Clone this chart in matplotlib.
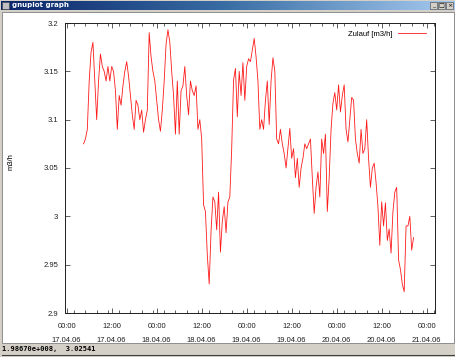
import matplotlib
matplotlib.use('Agg')
import matplotlib.pyplot as plt
import matplotlib.dates as mdates
from matplotlib.colors import LinearSegmentedColormap
from matplotlib.patches import Rectangle
import numpy as np
import pandas as pd

# Zulauf in m3/h, half-hourly values starting 17.04.06 04:30
start = '2006-04-17 04:30'
zulauf = [
    3.075, 3.08, 3.09, 3.14, 3.17, 3.18, 3.14, 3.10, 3.14, 3.168,
    3.155, 3.15, 3.14, 3.155, 3.14, 3.155, 3.15, 3.13, 3.09, 3.125,
    3.115, 3.135, 3.15, 3.16, 3.145, 3.125, 3.105, 3.09, 3.12, 3.115,
    3.10, 3.11, 3.087, 3.10, 3.11, 3.19, 3.165, 3.15, 3.14, 3.12,
    3.10, 3.088, 3.11, 3.14, 3.178, 3.193, 3.18, 3.15, 3.125, 3.085,
    3.14, 3.085, 3.13, 3.135, 3.155, 3.125, 3.105, 3.14, 3.13, 3.125,
    3.135, 3.09, 3.10, 3.08, 3.012, 3.005, 2.96, 2.93, 2.985, 3.02,
    3.015, 2.986, 3.025, 2.963, 2.995, 3.01, 2.983, 3.015, 3.02, 3.07,
    3.141, 3.153, 3.103, 3.15, 3.125, 3.159, 3.12, 3.155, 3.163, 3.16,
    3.172, 3.184, 3.165, 3.14, 3.09, 3.10, 3.09, 3.12, 3.14, 3.095,
    3.14, 3.164, 3.15, 3.08, 3.075, 3.09, 3.075, 3.065, 3.05, 3.07,
    3.091, 3.06, 3.07, 3.04, 3.06, 3.03, 3.05, 3.06, 3.075, 3.07,
    3.075, 3.08, 3.04, 3.003, 3.03, 3.046, 3.02, 3.08, 3.065, 3.085,
    3.005, 3.04, 3.09, 3.117, 3.128, 3.11, 3.136, 3.108, 3.125, 3.136,
    3.09, 3.077, 3.10, 3.123, 3.12, 3.08, 3.065, 3.055, 3.09, 3.065,
    3.07, 3.10, 3.06, 3.03, 3.05, 3.055, 3.035, 3.01, 2.97, 3.015,
    2.99, 3.014, 2.975, 2.987, 2.962, 3.005, 3.025, 3.03, 2.955, 2.945,
    2.93, 2.922, 2.99, 2.99, 3.0, 2.965, 2.978,
]
times = pd.date_range(start, periods=len(zulauf), freq='30min')

x_from = pd.Timestamp('2006-04-16 23:33')
x_to = pd.Timestamp('2006-04-21 02:13')
y_ticks = [2.9, 2.95, 3.0, 3.05, 3.1, 3.15, 3.2]
y_labels = ['2.9', '2.95', '3', '3.05', '3.1', '3.15', '3.2']

win_title = 'gnuplot graph'
status = '1.98670e+008,  3.02541'

plt.rcParams['font.family'] = ['Liberation Sans Narrow', 'Liberation Sans', 'DejaVu Sans']
fs = 5.5

W, H = 456, 357
fig = plt.figure(figsize=(W / 100, H / 100), dpi=100)
fig.patch.set_facecolor('#d4d0c8')

# window chrome (pixel coordinates, origin top left)
bg = fig.add_axes([0, 0, 1, 1])
bg.axis('off')
title_cmap = LinearSegmentedColormap.from_list('tb', ['#0a246a', '#3a6ea5', '#a6caf0'])
bg.imshow(np.linspace(0, 1, 256).reshape(1, -1), cmap=title_cmap, aspect='auto',
          extent=(1, 455, 10, 1))
bg.add_patch(Rectangle((2, 2), 7, 7, facecolor='#c0c0c0', edgecolor='#404040', lw=0.4))
bg.text(12, 5.5, win_title, color='white', fontsize=5, fontweight='bold', va='center',
        family='DejaVu Sans')
for bx, sym in [(430, '_'), (438, '□'), (446, '×')]:
    bg.add_patch(Rectangle((bx, 2), 7.5, 7, facecolor='#d4d0c8', edgecolor='#404040', lw=0.4))
    bg.text(bx + 3.75, 5.5, sym, fontsize=4.5, ha='center', va='center', family='DejaVu Sans')
bg.add_patch(Rectangle((2, 12), 452, 331, facecolor='white', edgecolor='#808080', lw=0.6))
bg.plot([2, 454], [355, 355], color='#404040', lw=0.8)
bg.text(2, 349.5, status, fontsize=5, fontweight='bold', va='center', family='DejaVu Sans Mono')
bg.set_xlim(0, W)
bg.set_ylim(H, 0)

# plot area
ax = fig.add_axes([65 / W, 1 - 313 / H, 370 / W, 290 / H])
ax.plot(times, zulauf, color='#ff1a1a', lw=0.6, label='Zulauf [m3/h]')
ax.set_xlim(x_from, x_to)
ax.set_ylim(2.9, 3.2)
ax.set_yticks(y_ticks)
ax.set_yticklabels(y_labels)
ax.xaxis.set_major_locator(mdates.HourLocator(byhour=[0, 12]))
ax.xaxis.set_minor_locator(mdates.HourLocator(interval=3))
ax.xaxis.set_major_formatter(mdates.DateFormatter('%H:%M\n%d.%m.%y'))
ax.tick_params(which='both', direction='in', top=True, right=True, labelsize=fs,
               width=0.5, colors='#202020')
ax.tick_params(which='major', length=3.5, pad=5)
ax.tick_params(axis='x', which='major', pad=7)
ax.tick_params(which='minor', length=2)
for s in ax.spines.values():
    s.set_linewidth(0.7)
    s.set_color('#202020')
ax.set_ylabel('m3/h', fontsize=fs)
ax.yaxis.set_label_coords((15 - 65) / 370, (313 - 162) / 290)

ax.legend(loc='upper right', bbox_to_anchor=(0.985, 0.985), frameon=False, fontsize=fs,
          markerfirst=False, handlelength=3.7, handletextpad=0.7, borderaxespad=0)

fig.canvas.draw()
for lbl in ax.get_xticklabels():
    lbl.set_linespacing(2.4)

fig.savefig('out.png', dpi=100, facecolor=fig.get_facecolor())
